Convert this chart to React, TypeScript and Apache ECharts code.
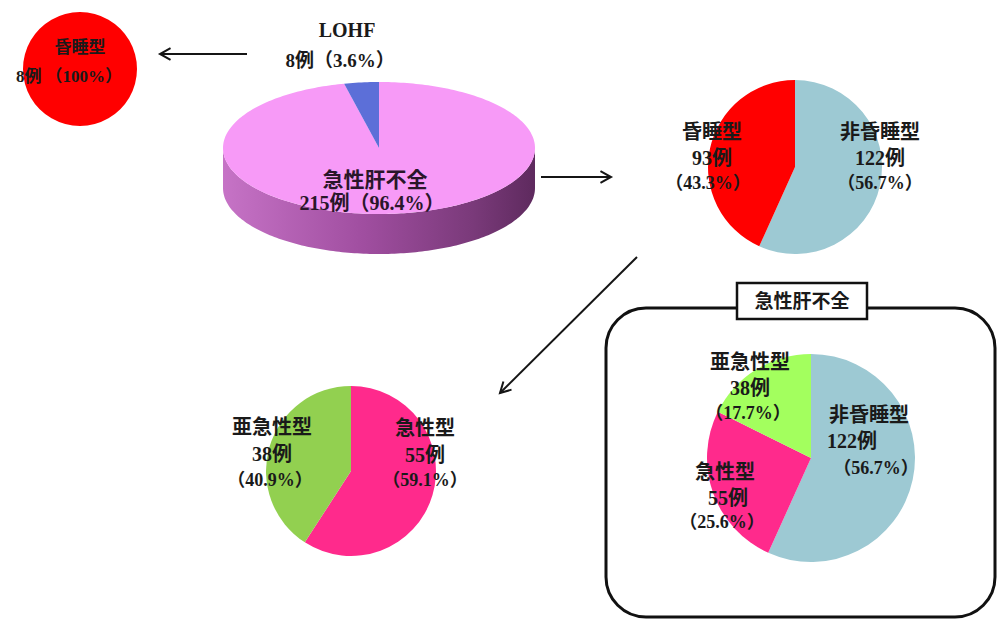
import { useEffect, useRef } from "react";
import * as echarts from "echarts";

// ---- data ----
const lohfNames = ["急性肝不全", "LOHF"];
const lohfValues = [215, 8];
const lohfComaNames = ["昏睡型"];
const lohfComaValues = [8];
const alfComaNames = ["非昏睡型", "昏睡型"];
const alfComaValues = [122, 93];
const comaTypeNames = ["急性型", "亜急性型"];
const comaTypeValues = [55, 38];
const alfAllNames = ["非昏睡型", "急性型", "亜急性型"];
const alfAllValues = [122, 55, 38];
const boxTitle = "急性肝不全";

const sum = (a: number[]) => a.reduce((s, v) => s + v, 0);
const pct = (v: number, arr: number[]) => {
  const p = (v / sum(arr)) * 100;
  return p === 100 ? "100" : p.toFixed(1);
};

const FONT = '"Liberation Serif", "Noto Sans CJK JP", serif';
const txt = (text: string, x: number, y: number, size: number, color = "#1a1a1a") => ({
  type: "text",
  x,
  y,
  z: 50,
  style: {
    text,
    fill: color,
    font: `bold ${size}px ${FONT}`,
    align: "center",
    verticalAlign: "middle",
    textAlign: "center",
    textVerticalAlign: "middle",
  },
});

const arrow = (x1: number, y1: number, x2: number, y2: number) => {
  const ang = Math.atan2(y2 - y1, x2 - x1);
  const L = 12;
  const a = 0.5;
  return [
    { type: "line", z: 40, shape: { x1, y1, x2, y2 }, style: { stroke: "#151515", lineWidth: 2 } },
    {
      type: "polyline",
      z: 40,
      shape: {
        points: [
          [x2 - L * Math.cos(ang - a), y2 - L * Math.sin(ang - a)],
          [x2, y2],
          [x2 - L * Math.cos(ang + a), y2 - L * Math.sin(ang + a)],
        ],
      },
      style: { stroke: "#151515", lineWidth: 2, fill: null },
    },
  ];
};

// 3D pie geometry
const P3 = { cx: 379, cy: 148, rx: 156, ry: 66, depth: 40 };
const lohfTopColors = ["#f79af7", "#5c6fd8"];

function render3D(params: any, api: any) {
  const idx = params.dataIndex;
  const total = sum(lohfValues);
  let before = 0;
  for (let i = 0; i < idx; i++) before += lohfValues[i];
  const v = api.value(0);
  const a0 = (before / total) * Math.PI * 2;
  const a1 = ((before + v) / total) * Math.PI * 2;
  const pt = (t: number, dy: number) => [P3.cx + P3.rx * Math.sin(t), P3.cy - P3.ry * Math.cos(t) + dy];
  const arcPts = (s: number, e: number, dy: number) => {
    const n = Math.max(2, Math.ceil(Math.abs(e - s) / 0.02));
    const out: number[][] = [];
    for (let k = 0; k <= n; k++) out.push(pt(s + ((e - s) * k) / n, dy));
    return out;
  };
  const children: any[] = [];
  const s = Math.max(a0, Math.PI / 2);
  const e = Math.min(a1, (Math.PI * 3) / 2);
  if (s < e) {
    const pts = arcPts(s, e, 0).concat(arcPts(e, s, P3.depth));
    children.push({
      type: "polygon",
      shape: { points: pts },
      style: {
        fill: {
          type: "linear",
          x: 0,
          y: 0,
          x2: 1,
          y2: 0,
          colorStops: [
            { offset: 0, color: "#c673c6" },
            { offset: 0.45, color: "#a04ea0" },
            { offset: 0.8, color: "#7a3a7a" },
            { offset: 1, color: "#5e2a5e" },
          ],
        },
      },
    });
  }
  const top = [[P3.cx, P3.cy]].concat(arcPts(a0, a1, 0));
  children.push({ type: "polygon", shape: { points: top }, style: { fill: lohfTopColors[idx] } });
  return { type: "group", children };
}

const pieBase = {
  type: "pie",
  silent: true,
  label: { show: false },
  labelLine: { show: false },
  emphasis: { disabled: true },
  startAngle: 90,
  clockwise: true,
};

const pieData = (names: string[], values: number[], colors: string[]) =>
  values.map((v, i) => ({ name: names[i], value: v, itemStyle: { color: colors[i], borderWidth: 0 } }));

export default function App() {
  const ref = useRef<HTMLDivElement>(null);
  useEffect(() => {
    if (!ref.current) return;
    const chart = echarts.init(ref.current, undefined, { renderer: "svg" });

    const graphic: any[] = [
      {
        type: "rect",
        z: 5,
        shape: { x: 606, y: 308, width: 389, height: 309, r: 40 },
        style: { fill: null, stroke: "#111", lineWidth: 3 },
      },
      {
        type: "rect",
        z: 6,
        shape: { x: 737, y: 283, width: 130, height: 36 },
        style: { fill: "#fff", stroke: "#111", lineWidth: 2.5 },
      },
      txt(boxTitle, 802, 301, 19),
      ...arrow(247, 54, 160, 54),
      ...arrow(541, 177, 611, 177),
      ...arrow(637, 257, 500, 393),
      // top-left
      txt(lohfComaNames[0], 80, 47, 17),
      txt(`${lohfComaValues[0]}例 （${pct(lohfComaValues[0], lohfComaValues)}%）`, 69, 76, 17),
      // 3D pie labels
      txt(lohfNames[1], 347, 30, 20),
      txt(`${lohfValues[1]}例（${pct(lohfValues[1], lohfValues)}%）`, 340, 60, 19),
      txt(lohfNames[0], 375, 180, 21, "#2a162a"),
      txt(`${lohfValues[0]}例（${pct(lohfValues[0], lohfValues)}%）`, 372, 203, 20, "#2a162a"),
      // right pie
      txt(alfComaNames[1], 712, 132, 20),
      txt(`${alfComaValues[1]}例`, 712, 158, 20),
      txt(`（${pct(alfComaValues[1], alfComaValues)}%）`, 708, 183, 18),
      txt(alfComaNames[0], 880, 132, 20),
      txt(`${alfComaValues[0]}例`, 880, 158, 20),
      txt(`（${pct(alfComaValues[0], alfComaValues)}%）`, 880, 183, 18),
      // bottom-left pie
      txt(comaTypeNames[1], 272, 427, 20),
      txt(`${comaTypeValues[1]}例`, 272, 454, 20),
      txt(`（${pct(comaTypeValues[1], comaTypeValues)}%）`, 270, 480, 18),
      txt(comaTypeNames[0], 425, 428, 20),
      txt(`${comaTypeValues[0]}例`, 425, 455, 20),
      txt(`（${pct(comaTypeValues[0], comaTypeValues)}%）`, 425, 480, 18),
      // bottom-right pie
      txt(alfAllNames[2], 750, 362, 20),
      txt(`${alfAllValues[2]}例`, 750, 388, 20),
      txt(`（${pct(alfAllValues[2], alfAllValues)}%）`, 748, 413, 18),
      txt(alfAllNames[0], 869, 415, 20),
      txt(`${alfAllValues[0]}例`, 852, 441, 20),
      txt(`（${pct(alfAllValues[0], alfAllValues)}%）`, 876, 468, 18),
      txt(alfAllNames[1], 725, 472, 20),
      txt(`${alfAllValues[1]}例`, 728, 498, 20),
      txt(`（${pct(alfAllValues[1], alfAllValues)}%）`, 722, 522, 18),
    ];

    chart.setOption({
      animation: false,
      backgroundColor: "#ffffff",
      graphic,
      series: [
        {
          type: "custom",
          coordinateSystem: "none",
          silent: true,
          renderItem: render3D,
          data: lohfValues.map((v, i) => ({ name: lohfNames[i], value: [v] })),
        },
        {
          ...pieBase,
          center: [80, 69],
          radius: 57,
          data: pieData(lohfComaNames, lohfComaValues, ["#ff0000"]),
        },
        {
          ...pieBase,
          center: [795, 167],
          radius: 87,
          data: pieData(alfComaNames, alfComaValues, ["#9dc9d3", "#ff0000"]),
        },
        {
          ...pieBase,
          center: [351, 471],
          radius: 85,
          data: pieData(comaTypeNames, comaTypeValues, ["#ff2a8c", "#92d050"]),
        },
        {
          ...pieBase,
          center: [811, 458],
          radius: 104,
          data: pieData(alfAllNames, alfAllValues, ["#9dc9d3", "#ff2a8c", "#a3ff5e"]),
        },
      ],
    });
    return () => chart.dispose();
  }, []);
  return (
    <div
      ref={ref}
      style={{ position: "fixed", left: 0, top: 0, width: 999, height: 621, background: "#fff" }}
    />
  );
}
